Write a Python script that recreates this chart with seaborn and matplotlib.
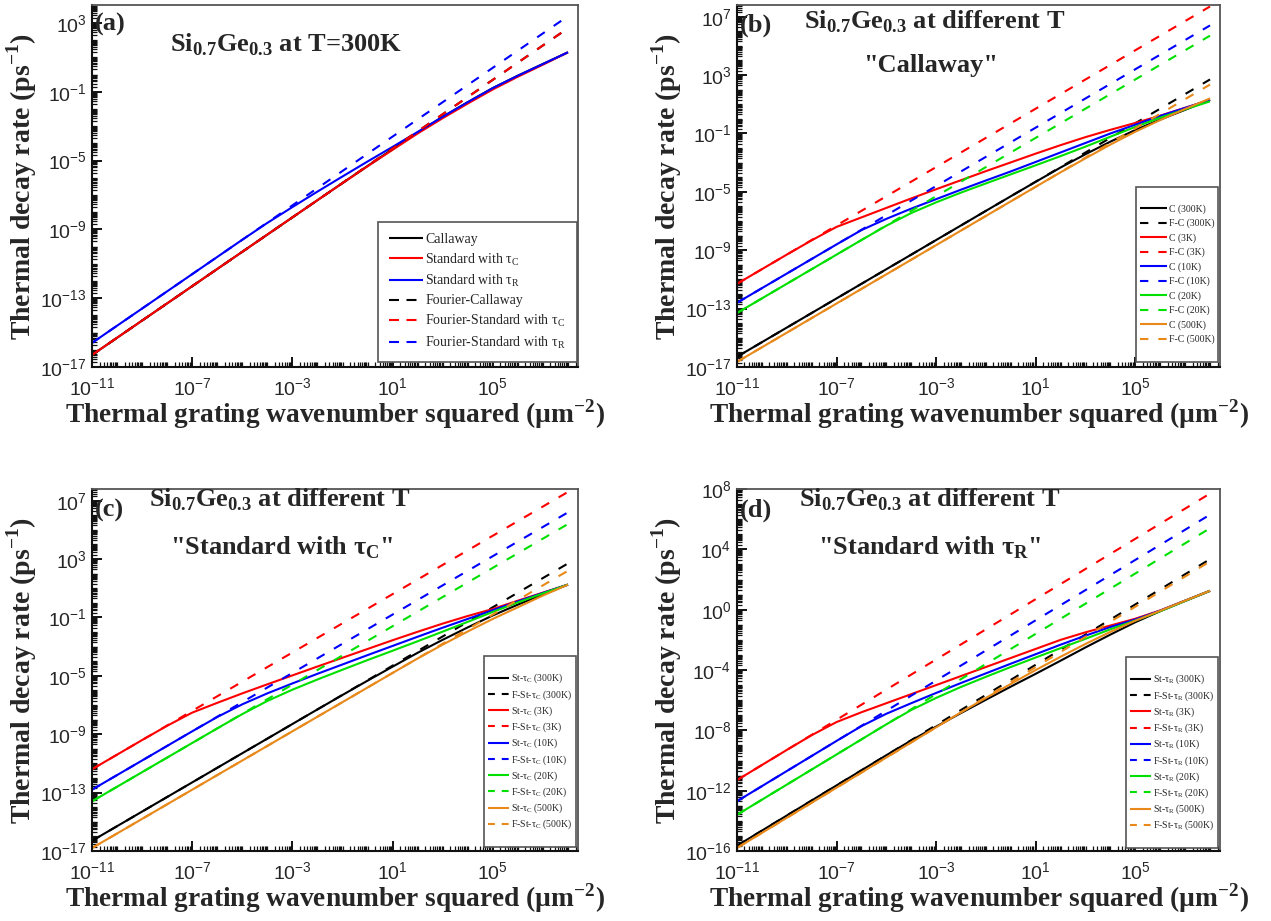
import numpy as np
import pandas as pd
import matplotlib
matplotlib.use("Agg")
import matplotlib.pyplot as plt
from matplotlib.lines import Line2D
from matplotlib.ticker import FixedLocator, LogLocator, FuncFormatter, NullFormatter
import seaborn as sns

# ---------------------------------------------------------------------------
# Data: thermal grating wavenumber squared (um^-2) and log10 of decay rate (ps^-1)
# ---------------------------------------------------------------------------
q2 = [1e-11, 1e-10, 1e-9, 1e-8, 1e-7, 1e-6, 1e-5, 1e-4, 1e-3, 1e-2,
      1e-1, 1e0, 1e1, 1e2, 1e3, 1e4, 1e5, 1e6, 1e7, 1e8]
q2_fourier = [1e-11, 1e8]

# (a) Si0.7Ge0.3 at 300 K
a_callaway   = [-16.3, -15.3, -14.3, -13.3, -12.3, -11.3, -10.3, -9.3, -8.3, -7.3,
                -6.3, -5.31, -4.33, -3.37, -2.45, -1.6, -0.78, -0.06, 0.62, 1.3]
a_std_tc     = [-16.3, -15.3, -14.3, -13.3, -12.3, -11.3, -10.3, -9.3, -8.3, -7.3,
                -6.31, -5.33, -4.37, -3.42, -2.53, -1.68, -0.86, -0.12, 0.58, 1.3]
a_std_tr     = [-15.6, -14.6, -13.6, -12.6, -11.6, -10.6, -9.6, -8.62, -7.7, -6.8,
                -5.92, -5.05, -4.2, -3.33, -2.45, -1.6, -0.78, -0.06, 0.62, 1.3]
a_f_callaway = [-16.3, 2.7]
a_f_std_tc   = [-16.3, 2.7]
a_f_std_tr   = [-15.6, 3.4]

# (b) Callaway model at different temperatures
b_c300   = [-16.3, -15.3, -14.3, -13.3, -12.3, -11.3, -10.3, -9.3, -8.3, -7.3,
            -6.3, -5.3, -4.31, -3.33, -2.42, -1.56, -0.76, -0.05, 0.62, 1.3]
b_f_c300 = [-16.3, 2.7]
b_c3     = [-11.3, -10.3, -9.3, -8.32, -7.4, -6.75, -6.1, -5.45, -4.82, -4.2,
            -3.58, -2.98, -2.38, -1.8, -1.25, -0.75, -0.28, 0.22, 0.76, 1.3]
b_f_c3   = [-11.3, 7.7]
b_c10    = [-12.6, -11.6, -10.6, -9.6, -8.6, -7.62, -6.85, -6.15, -5.5, -4.85,
            -4.22, -3.6, -2.95, -2.3, -1.65, -1.0, -0.4, 0.2, 0.75, 1.3]
b_f_c10  = [-12.6, 6.4]
b_c20    = [-13.3, -12.3, -11.3, -10.3, -9.3, -8.3, -7.32, -6.45, -5.72, -5.05,
            -4.42, -3.8, -3.18, -2.55, -1.9, -1.22, -0.55, 0.08, 0.65, 1.2]
b_f_c20  = [-13.3, 5.7]
b_c500   = [-16.65, -15.65, -14.65, -13.65, -12.65, -11.65, -10.65, -9.65, -8.65, -7.65,
            -6.65, -5.65, -4.65, -3.66, -2.7, -1.76, -0.88, -0.08, 0.68, 1.4]
b_f_c500 = [-16.65, 2.35]

# (c) Standard model with tau_C at different temperatures
c_st300   = [-16.3, -15.3, -14.3, -13.3, -12.3, -11.3, -10.3, -9.3, -8.3, -7.3,
             -6.31, -5.33, -4.37, -3.42, -2.53, -1.68, -0.86, -0.12, 0.58, 1.25]
c_f_st300 = [-16.3, 2.7]
c_st3     = [-11.4, -10.4, -9.4, -8.42, -7.52, -6.85, -6.2, -5.58, -4.97, -4.36,
             -3.76, -3.16, -2.56, -1.98, -1.42, -0.9, -0.42, 0.15, 0.7, 1.25]
c_f_st3   = [-11.4, 7.6]
c_st10    = [-12.8, -11.8, -10.8, -9.8, -8.8, -7.82, -6.95, -6.2, -5.52, -4.86,
             -4.22, -3.58, -2.95, -2.32, -1.7, -1.1, -0.5, 0.1, 0.68, 1.25]
c_f_st10  = [-12.8, 6.2]
c_st20    = [-13.6, -12.6, -11.6, -10.6, -9.6, -8.6, -7.62, -6.72, -5.95, -5.25,
             -4.58, -3.92, -3.28, -2.63, -1.97, -1.3, -0.62, 0.03, 0.65, 1.25]
c_f_st20  = [-13.6, 5.4]
c_st500   = [-16.8, -15.8, -14.8, -13.8, -12.8, -11.8, -10.8, -9.8, -8.8, -7.8,
             -6.8, -5.8, -4.8, -3.81, -2.86, -1.96, -1.1, -0.3, 0.5, 1.25]
c_f_st500 = [-16.8, 2.2]

# (d) Standard model with tau_R at different temperatures
d_sr300   = [-15.65, -14.65, -13.65, -12.65, -11.65, -10.65, -9.65, -8.67, -7.75, -6.85,
             -5.97, -5.1, -4.25, -3.38, -2.5, -1.65, -0.83, -0.1, 0.58, 1.25]
d_f_sr300 = [-15.65, 3.35]
d_sr3     = [-11.3, -10.3, -9.3, -8.32, -7.45, -6.8, -6.2, -5.6, -5.0, -4.4,
             -3.8, -3.2, -2.6, -2.0, -1.5, -1.05, -0.6, -0.05, 0.6, 1.25]
d_f_sr3   = [-11.3, 7.7]
d_sr10    = [-12.7, -11.7, -10.7, -9.7, -8.7, -7.72, -6.9, -6.2, -5.52, -4.86,
             -4.22, -3.58, -2.95, -2.32, -1.72, -1.15, -0.65, -0.06, 0.6, 1.25]
d_f_sr10  = [-12.7, 6.3]
d_sr20    = [-13.6, -12.6, -11.6, -10.6, -9.6, -8.6, -7.6, -6.65, -5.85, -5.12,
             -4.45, -3.8, -3.17, -2.55, -1.93, -1.3, -0.72, -0.1, 0.58, 1.25]
d_f_sr20  = [-13.6, 5.4]
d_sr500   = [-15.8, -14.8, -13.8, -12.8, -11.8, -10.8, -9.8, -8.8, -7.8, -6.8,
             -5.85, -4.92, -4.0, -3.12, -2.27, -1.47, -0.73, -0.07, 0.6, 1.25]
d_f_sr500 = [-15.8, 3.2]

temps = ["300K", "3K", "10K", "20K", "500K"]
x_ticks = [1e-11, 1e-7, 1e-3, 1e1, 1e5]

# ---------------------------------------------------------------------------
# Style
# ---------------------------------------------------------------------------
sns.set_style("ticks")
plt.rcParams.update({
    "font.family": ["Liberation Serif", "DejaVu Serif"],
    "axes.linewidth": 1.5,
    "axes.edgecolor": "#333333",
    "lines.solid_capstyle": "butt",
    "lines.dash_capstyle": "butt",
})

COLORS = {"300K": "#000000", "3K": "#ff0000", "10K": "#0000ff",
          "20K": "#00e000", "500K": "#e8891a"}
DASH = (0, (4.4, 5.2))
LW = 1.5

fig = plt.figure(figsize=(12.71, 9.21), dpi=100)
W, H = 1271.0, 921.0


def make_axes(left, right, top, bottom):
    return fig.add_axes([left / W, (H - bottom) / H, (right - left) / W, (bottom - top) / H])


def draw(ax, x, logy, color, dashed, label):
    df = pd.DataFrame({"q2": x, "rate": np.power(10.0, np.asarray(logy, dtype=float))})
    sns.lineplot(data=df, x="q2", y="rate", ax=ax, color=color, lw=LW,
                 linestyle=DASH if dashed else "-", label=label,
                 estimator=None, sort=False)


log_fmt = FuncFormatter(lambda v, p: r"$\mathdefault{10^{%d}}$" % int(round(np.log10(v))))


def style_axes(ax, ylim, yticks):
    ax.set_xscale("log")
    ax.set_yscale("log")
    ax.set_xlim(1e-11, 10 ** 8.4)
    ax.set_ylim(*ylim)
    ax.xaxis.set_major_locator(FixedLocator(x_ticks))
    ax.yaxis.set_major_locator(FixedLocator(yticks))
    ax.xaxis.set_minor_locator(LogLocator(base=10, subs=np.arange(1, 10), numticks=200))
    ax.yaxis.set_minor_locator(LogLocator(base=10, subs=np.arange(1, 10), numticks=200))
    ax.xaxis.set_major_formatter(log_fmt)
    ax.yaxis.set_major_formatter(log_fmt)
    ax.xaxis.set_minor_formatter(NullFormatter())
    ax.yaxis.set_minor_formatter(NullFormatter())
    ax.tick_params(which="both", direction="in", top=False, right=False,
                   color="#111111")
    ax.tick_params(which="major", length=7, width=1.4, labelsize=14,
                   labelfontfamily="Liberation Sans")
    ax.tick_params(axis="x", which="major", pad=7)
    ax.tick_params(axis="y", which="major", pad=4)
    ax.tick_params(which="minor", length=3.5, width=0.9)
    ax.set_xlabel(r"Thermal grating wavenumber squared (µm$^{\mathdefault{-2}}$)",
                  fontsize=19.7, fontweight="bold")
    ax.set_ylabel(r"Thermal decay rate (ps$^{\mathdefault{-1}}$)",
                  fontsize=20, fontweight="bold")
    ax.xaxis.set_label_coords(0.5, -0.083)
    ax.yaxis.set_label_coords(-0.11, 0.5)
    for name, sp in ax.spines.items():
        sp.set_visible(True)
        if name in ("top", "right"):
            sp.set_color("#555555")
            sp.set_linewidth(1.3)
        else:
            sp.set_color("#111111")
            sp.set_linewidth(1.5)


def add_legend(ax, anchor, fontsize, spacing, handlelen, borderpad, handle_dash,
               padded_rows):
    handles, labels = ax.get_legend_handles_labels()
    if padded_rows:
        blank = Line2D([], [], color="none")
        handles = [blank] + handles + [blank]
        labels = [" "] + labels + [" "]
    leg = ax.legend(handles, labels, loc="lower right", bbox_to_anchor=anchor,
                    frameon=True, fancybox=False, edgecolor="#555555", framealpha=1,
                    fontsize=fontsize, labelspacing=spacing,
                    handlelength=handlelen, handletextpad=0.2,
                    borderpad=borderpad, borderaxespad=0)
    leg.get_frame().set_linewidth(1.2)
    for ln in leg.get_lines():
        if ln.get_linestyle() not in ("-", "None", "none"):
            ln.set_linestyle((0, handle_dash))
    return leg


title_kw = dict(fontsize=19, fontweight="bold", ha="center", va="center")
tag_kw = dict(fontsize=19, fontweight="bold", ha="left", va="center")
sige = r"Si$_{\mathdefault{0.7}}$Ge$_{\mathdefault{0.3}}$"

# ---------------------------------------------------------------------------
# (a)
# ---------------------------------------------------------------------------
ax_a = make_axes(92, 578, 5, 367)
draw(ax_a, q2, a_callaway, COLORS["300K"], False, "Callaway")
draw(ax_a, q2, a_std_tc, COLORS["3K"], False, r"Standard with τ$_{\mathdefault{C}}$")
draw(ax_a, q2, a_std_tr, COLORS["10K"], False, r"Standard with τ$_{\mathdefault{R}}$")
draw(ax_a, q2_fourier, a_f_callaway, COLORS["300K"], True, "Fourier-Callaway")
draw(ax_a, q2_fourier, a_f_std_tc, COLORS["3K"], True, r"Fourier-Standard with τ$_{\mathdefault{C}}$")
draw(ax_a, q2_fourier, a_f_std_tr, COLORS["10K"], True, r"Fourier-Standard with τ$_{\mathdefault{R}}$")
style_axes(ax_a, (1e-17, 10 ** 4.05), [1e-17, 1e-13, 1e-9, 1e-5, 1e-1, 1e3])
add_legend(ax_a, (0.998, 0.014), 10, 0.38, 2.4, 0.8, (4.8, 3.6), False)
ax_a.text(0.006, 0.945, "(a)", transform=ax_a.transAxes, **tag_kw)
ax_a.text(0.40, 0.89, sige + " at T=300K", transform=ax_a.transAxes, **title_kw)

# ---------------------------------------------------------------------------
# (b)
# ---------------------------------------------------------------------------
ax_b = make_axes(737, 1220, 5, 367)
b_solid = [b_c300, b_c3, b_c10, b_c20, b_c500]
b_four = [b_f_c300, b_f_c3, b_f_c10, b_f_c20, b_f_c500]
for t, s, f in zip(temps, b_solid, b_four):
    draw(ax_b, q2, s, COLORS[t], False, f"C ({t})")
    draw(ax_b, q2_fourier, f, COLORS[t], True, f"F-C ({t})")
style_axes(ax_b, (1e-17, 10 ** 7.8), [1e-17, 1e-13, 1e-9, 1e-5, 1e-1, 1e3, 1e7])
add_legend(ax_b, (0.996, 0.014), 7, 0.5, 2.75, 0.4, (4.0, 4.8), True)
ax_b.text(0.006, 0.945, "(b)", transform=ax_b.transAxes, **tag_kw)
ax_b.text(0.41, 0.953, sige + " at different T", transform=ax_b.transAxes, **title_kw)
ax_b.text(0.40, 0.834, '"Callaway"', transform=ax_b.transAxes, **title_kw)

# ---------------------------------------------------------------------------
# (c)
# ---------------------------------------------------------------------------
ax_c = make_axes(92, 578, 489, 851)
c_solid = [c_st300, c_st3, c_st10, c_st20, c_st500]
c_four = [c_f_st300, c_f_st3, c_f_st10, c_f_st20, c_f_st500]
for t, s, f in zip(temps, c_solid, c_four):
    draw(ax_c, q2, s, COLORS[t], False, r"St-τ$_{\mathdefault{C}}$ (%s)" % t)
    draw(ax_c, q2_fourier, f, COLORS[t], True, r"F-St-τ$_{\mathdefault{C}}$ (%s)" % t)
style_axes(ax_c, (1e-17, 10 ** 7.8), [1e-17, 1e-13, 1e-9, 1e-5, 1e-1, 1e3, 1e7])
add_legend(ax_c, (0.996, 0.011), 7, 0.28, 2.2, 0.4, (3.3, 3.3), True)
ax_c.text(0.006, 0.942, "(c)", transform=ax_c.transAxes, **tag_kw)
ax_c.text(0.387, 0.97, sige + " at different T", transform=ax_c.transAxes, **title_kw)
ax_c.text(0.39, 0.837, r'"Standard with τ$_{\mathdefault{C}}$"', transform=ax_c.transAxes, **title_kw)

# ---------------------------------------------------------------------------
# (d)
# ---------------------------------------------------------------------------
ax_d = make_axes(737, 1220, 489, 851)
d_solid = [d_sr300, d_sr3, d_sr10, d_sr20, d_sr500]
d_four = [d_f_sr300, d_f_sr3, d_f_sr10, d_f_sr20, d_f_sr500]
for t, s, f in zip(temps, d_solid, d_four):
    draw(ax_d, q2, s, COLORS[t], False, r"St-τ$_{\mathdefault{R}}$ (%s)" % t)
    draw(ax_d, q2_fourier, f, COLORS[t], True, r"F-St-τ$_{\mathdefault{R}}$ (%s)" % t)
style_axes(ax_d, (1e-16, 1e8), [1e-16, 1e-12, 1e-8, 1e-4, 1e0, 1e4, 1e8])
add_legend(ax_d, (0.996, 0.008), 7, 0.28, 2.2, 0.4, (3.3, 3.3), True)
ax_d.text(0.006, 0.942, "(d)", transform=ax_d.transAxes, **tag_kw)
ax_d.text(0.40, 0.97, sige + " at different T", transform=ax_d.transAxes, **title_kw)
ax_d.text(0.40, 0.837, r'"Standard with τ$_{\mathdefault{R}}$"', transform=ax_d.transAxes, **title_kw)

fig.savefig("out.png", dpi=100)
